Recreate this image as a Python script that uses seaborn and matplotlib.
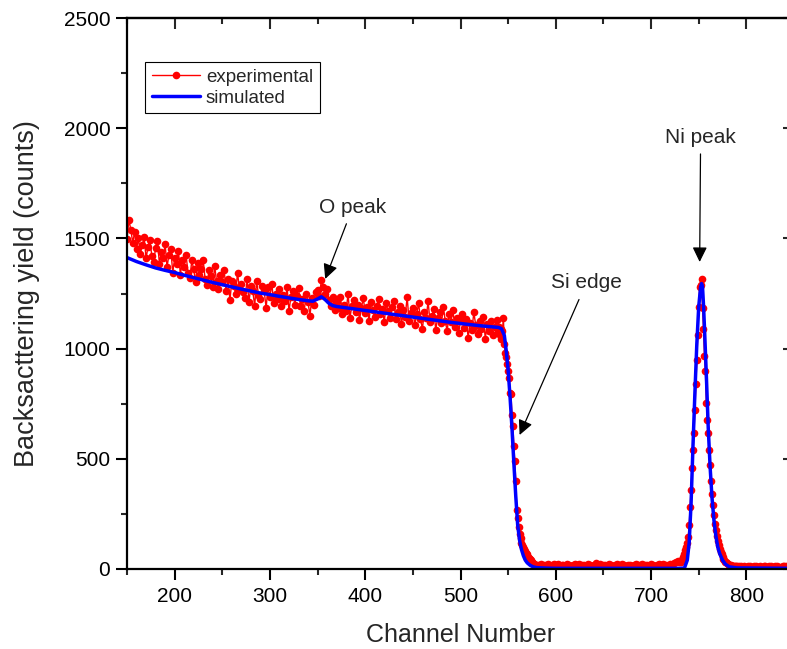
import numpy as np
import pandas as pd
import matplotlib
matplotlib.use("Agg")
import matplotlib.pyplot as plt
from matplotlib.ticker import MultipleLocator
import seaborn as sns

# experimental spectrum (segments with their channel steps)
exp_seg_a_start, exp_seg_a_step = 150, 2
exp_seg_a = [
    1497, 1583, 1540, 1480, 1530, 1450, 1500, 1430, 1470, 1505,
    1410, 1460, 1495, 1420, 1395, 1455, 1488, 1385, 1440, 1410,
    1475, 1370, 1425, 1450, 1345, 1410, 1385, 1445, 1335, 1400,
    1370, 1425, 1345, 1320, 1400, 1360, 1300, 1390, 1335, 1360,
    1400, 1315, 1290, 1355, 1330, 1280, 1375, 1305, 1270, 1335,
    1300, 1355, 1260, 1315, 1220, 1305, 1285, 1250, 1345, 1270,
    1295, 1255, 1230, 1315, 1210, 1285, 1260, 1195, 1305, 1245,
    1225, 1285, 1260, 1185, 1280, 1235, 1295, 1205, 1250, 1225,
    1270, 1195, 1245, 1215, 1280, 1170, 1235, 1260, 1200, 1240,
    1275, 1195, 1225, 1170, 1250, 1210, 1150, 1230, 1200, 1255,
    1265, 1240, 1310, 1280, 1250, 1270, 1220, 1195, 1235, 1175,
    1210, 1185, 1235, 1155, 1200, 1170, 1250, 1140, 1195, 1220,
    1165, 1200, 1130, 1185, 1230, 1160, 1190, 1125, 1210, 1175,
    1145, 1195, 1225, 1155, 1180, 1120, 1205, 1170, 1140, 1190,
    1215, 1135, 1165, 1195, 1110, 1175, 1145, 1235, 1125, 1160,
    1185, 1105, 1155, 1205, 1135, 1090, 1165, 1140, 1215, 1120,
    1150, 1180, 1085, 1140, 1165, 1115, 1190, 1125, 1080, 1155,
    1120, 1175, 1100, 1140, 1070, 1125, 1155, 1095, 1135, 1050,
    1115, 1085, 1165, 1105, 1065, 1125, 1090, 1145, 1045, 1110,
    1080, 1125, 1060, 1100, 1130,
]
exp_seg_b_start, exp_seg_b_step = 539, 1
exp_seg_b = [
    1075, 1100, 1060, 1090, 1045, 1080, 1139, 1020, 980, 960,
    930, 900, 866, 800, 794, 700, 650, 560, 490, 400,
    268, 230, 190, 160, 140, 120, 110, 101, 90, 80,
    72, 66, 56, 52, 46, 40, 34, 28, 22, 20,
    18, 16,
]
exp_seg_c_start, exp_seg_c_step = 582, 2
exp_seg_c = [
    18, 22, 15, 20, 17, 24, 14, 19, 21, 16,
    23, 13, 18, 20, 15, 22, 17, 12, 19, 21,
    16, 24, 14, 18, 20, 15, 22, 17, 13, 19,
    25, 16, 21, 14, 18, 20, 15, 23, 17, 12,
    19, 21, 16, 14, 22, 18, 15, 20, 17, 13,
    19, 24, 16, 18, 21, 14, 17, 20, 15, 22,
    18, 13, 19, 21, 16, 23, 17, 20, 15, 22,
    19, 25, 30, 35,
]
exp_seg_d_start, exp_seg_d_step = 729, 1
exp_seg_d = [
    30, 38, 34, 42, 50, 56, 70, 85, 101, 120,
    147, 200, 280, 360, 457, 540, 617, 720, 840, 950,
    1060, 1189, 1280, 1290, 1316, 1184, 1089, 966, 898, 755,
    676, 618, 540, 470, 400, 340, 290, 245, 205, 177,
    150, 128, 110, 92, 78, 66, 56, 47, 40, 34,
    30, 26, 22, 20, 18, 16, 15, 14, 13, 14,
    12, 13,
]
exp_seg_e_start, exp_seg_e_step = 792, 2
exp_seg_e = [
    12, 14, 11, 13, 10, 12, 15, 11, 13, 12,
    10, 14, 11, 12, 13, 10, 12, 14, 11, 13,
    12, 10, 11, 13, 12, 14, 11, 12, 10, 13,
]

# simulated spectrum
sim_channels = [
    150, 160, 170, 180, 190, 200, 210, 220, 230, 240, 250, 260, 270, 280, 290,
    300, 310, 320, 330, 340, 345, 350, 354, 358, 362, 366, 370, 380, 390, 400,
    410, 420, 430, 440, 450, 460, 470, 480, 490, 500, 510, 520, 530, 540, 543,
    546, 548, 550, 552, 554, 556, 558, 560, 562, 564, 566, 568, 570, 573, 576,
    580, 590, 600, 650, 700, 730, 735, 738, 740, 742, 744, 746, 748, 750, 752,
    753, 754, 755, 756, 758, 760, 762, 764, 766, 768, 770, 772, 775, 778, 782,
    790, 850,
]
sim_counts = [
    1413, 1395, 1380, 1366, 1355, 1345, 1333, 1322, 1311, 1300, 1290, 1280, 1270, 1261, 1252,
    1245, 1237, 1230, 1223, 1217, 1215, 1225, 1235, 1222, 1205, 1195, 1191, 1185, 1179, 1173,
    1167, 1161, 1155, 1149, 1143, 1137, 1131, 1125, 1119, 1114, 1109, 1104, 1100, 1096, 1090,
    1060, 990, 903, 780, 640, 480, 330, 200, 130, 88, 60, 40, 28, 17, 10,
    6, 4, 3, 3, 3, 3, 4, 40, 120, 300, 560, 800, 1020, 1190, 1280,
    1295, 1280, 1200, 1100, 880, 640, 460, 320, 220, 150, 100, 70, 40, 22, 10,
    5, 3,
]

segments = [
    (exp_seg_a_start, exp_seg_a_step, exp_seg_a),
    (exp_seg_b_start, exp_seg_b_step, exp_seg_b),
    (exp_seg_c_start, exp_seg_c_step, exp_seg_c),
    (exp_seg_d_start, exp_seg_d_step, exp_seg_d),
    (exp_seg_e_start, exp_seg_e_step, exp_seg_e),
]
exp_channels = np.concatenate([start + step * np.arange(len(vals)) for start, step, vals in segments])
exp_counts = np.concatenate([np.array(vals, dtype=float) for _, _, vals in segments])

exp_df = pd.DataFrame({"channel": exp_channels, "counts": exp_counts})
sim_df = pd.DataFrame({"channel": sim_channels, "counts": sim_counts})

sns.set_style("ticks")
plt.rcParams["font.family"] = ["Liberation Sans", "DejaVu Sans"]

fig = plt.figure(figsize=(7.87, 6.49), dpi=100)
ax = fig.add_axes([127 / 787, 80 / 649, 667 / 787, 551 / 649])

sns.lineplot(
    data=exp_df, x="channel", y="counts", ax=ax, color="red", linewidth=1.0,
    marker="o", markersize=5.5, markeredgewidth=0, markeredgecolor="red",
    estimator=None, sort=False, label="experimental",
)
sns.lineplot(
    data=sim_df, x="channel", y="counts", ax=ax, color="#0000ff", linewidth=2.5,
    estimator=None, sort=False, label="simulated",
)

ax.set_xlim(150, 850)
ax.set_ylim(0, 2500)
ax.xaxis.set_major_locator(MultipleLocator(100))
ax.xaxis.set_minor_locator(MultipleLocator(50))
ax.yaxis.set_major_locator(MultipleLocator(500))
ax.yaxis.set_minor_locator(MultipleLocator(250))

for side in ["left", "right", "top", "bottom"]:
    ax.spines[side].set_visible(True)
    ax.spines[side].set_linewidth(1.6)
    ax.spines[side].set_color("black")

ax.tick_params(axis="x", which="major", direction="out", length=8, width=1.5, labelsize=15, pad=5,
               top=False, colors="black")
ax.tick_params(axis="x", which="minor", direction="out", length=4.5, width=1.5, top=False)
ax.tick_params(axis="y", which="major", direction="out", length=8, width=1.5, labelsize=15, pad=4,
               right=False, colors="black")
ax.tick_params(axis="y", which="minor", direction="out", length=4.5, width=1.5, right=False)

# inward ticks on top and right, as in the original
top = ax.secondary_xaxis("top")
top.set_xticks(np.arange(200, 851, 100))
top.xaxis.set_minor_locator(MultipleLocator(50))
top.tick_params(which="major", direction="in", length=8, width=1.5, labeltop=False)
top.tick_params(which="minor", direction="in", length=4.5, width=1.5)
top.spines["top"].set_linewidth(1.6)
right = ax.secondary_yaxis("right")
right.set_yticks(np.arange(0, 2501, 500))
right.tick_params(which="major", direction="in", length=8, width=1.5, labelright=False)
right.spines["right"].set_linewidth(1.6)

ax.set_xlabel("Channel Number", fontsize=18, labelpad=12)
ax.set_ylabel("Backsacttering yield (counts)", fontsize=19.5, labelpad=17)

arrow = dict(arrowstyle="-|>,head_length=0.45,head_width=0.22", color="black", lw=0.9,
             mutation_scale=20, shrinkA=3, shrinkB=0)
ax.annotate("O peak", xy=(358, 1316), xytext=(387, 1642), ha="center", va="center",
            fontsize=15, arrowprops=arrow)
ax.annotate("Si edge", xy=(562, 608), xytext=(632, 1298), ha="center", va="center",
            fontsize=15, arrowprops=arrow)
ax.annotate("Ni peak", xy=(751, 1393), xytext=(752, 1960), ha="center", va="center",
            fontsize=15, arrowprops=arrow)

leg = ax.legend(loc="upper left", bbox_to_anchor=(0.027, 0.92), borderaxespad=0,
                fontsize=13.5, frameon=True, fancybox=False, framealpha=1,
                edgecolor="black", handlelength=2.6, handletextpad=0.3,
                labelspacing=0.2, borderpad=0.35)
leg.get_frame().set_linewidth(0.8)

fig.savefig("out.png", dpi=100)
